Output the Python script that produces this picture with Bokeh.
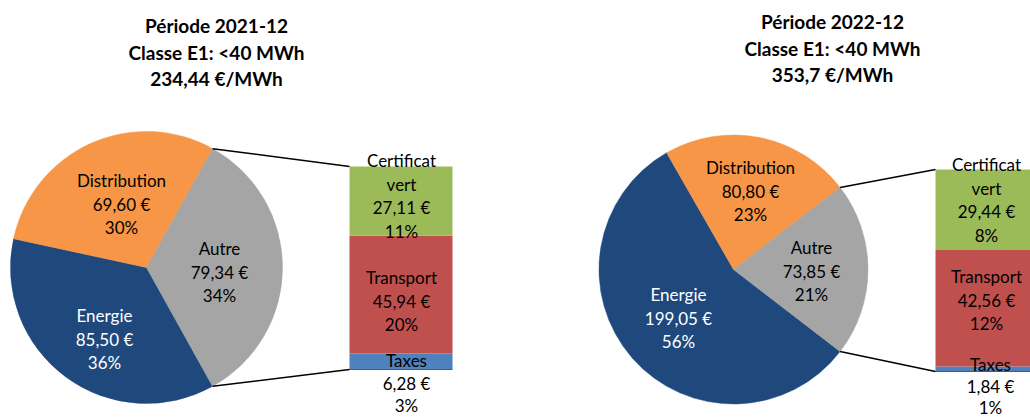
import math
from bokeh.plotting import figure
from bokeh.models import Range1d
from bokeh.core.properties import value
from bokeh.embed import file_html
from bokeh.resources import INLINE

# ---------------- data ----------------
pie_names = ["Energie", "Distribution", "Autre"]
pie_values_2021 = [85.50, 69.60, 79.34]
pie_values_2022 = [199.05, 80.80, 73.85]
pie_pct_2021 = ["36%", "30%", "34%"]
pie_pct_2022 = ["56%", "23%", "21%"]

bar_names = ["Certificat vert", "Transport", "Taxes"]
bar_values_2021 = [27.11, 45.94, 6.28]
bar_values_2022 = [29.44, 42.56, 1.84]
bar_pct_2021 = ["11%", "20%", "3%"]
bar_pct_2022 = ["8%", "12%", "1%"]

titles_2021 = ["Période 2021-12", "Classe E1: <40 MWh", "234,44 €/MWh"]
titles_2022 = ["Période 2022-12", "Classe E1: <40 MWh", "353,7 €/MWh"]

pie_colors = ["#1F497D", "#F79646", "#A5A5A5"]
pie_text_colors = ["white", "black", "black"]
bar_colors = ["#9BBB59", "#C0504D", "#4F81BD"]

FONT = "Lato"
FS = "17px"
TFS = "19px"
LH = 23.5

W, H = 1030, 419
p = figure(width=W, height=H, x_range=Range1d(0, W), y_range=Range1d(0, H),
           output_backend="svg", toolbar_location=None, min_border=0)
p.xaxis.visible = False
p.yaxis.visible = False
p.grid.visible = False
p.outline_line_color = None
p.background_fill_color = "white"
p.border_fill_color = "white"


def Y(s):
    # picture pixel y -> data y
    return H - s


def fmt(v):
    return ("%.2f" % v).replace(".", ",") + " €"


def draw_lines(lines, x, y0, color="black", bold=False, size=FS, lh=None):
    step = lh if lh is not None else (26.5 if bold else LH)
    ys = [Y(y0 + i * step) for i in range(len(lines))]
    p.text(x=[x] * len(lines), y=ys, text=lines, text_align="center",
           text_baseline="middle", text_font=value(FONT), text_font_size=size,
           text_color=color, text_font_style="bold" if bold else "normal")


def panel(cfg):
    cx, cy, r = cfg["pie"]
    vals = cfg["pie_values"]
    total = sum(vals)
    fr = [v / total * 2 * math.pi for v in vals]
    a_autre = fr[2]
    # Autre centred on the right (angle 0), then Distribution, then Energie anticlockwise
    starts = {2: -a_autre / 2, 1: a_autre / 2, 0: a_autre / 2 + fr[1]}
    ends = {2: a_autre / 2, 1: a_autre / 2 + fr[1], 0: 2 * math.pi - a_autre / 2}
    for i in range(3):
        p.wedge(x=cx, y=Y(cy), radius=r, start_angle=starts[i], end_angle=ends[i],
                fill_color=pie_colors[i], line_color=pie_colors[i], line_width=0.5)
    # bar of pie
    bl, br, bbot, bh = cfg["bar"]
    bvals = cfg["bar_values"]
    k = bh / sum(bvals)
    bottom = Y(bbot)
    segs = []
    cur = bottom
    for i in [2, 1, 0]:
        top = cur + bvals[i] * k
        segs.append((i, cur, top))
        cur = top
    for i, b, t in segs:
        p.quad(left=bl, right=br, bottom=b, top=t, fill_color=bar_colors[i], line_color=None)
    p.line(x=[bl, br], y=[bottom, bottom], line_color="#E02020", line_width=1)
    bar_top = cur
    # connectors
    px1 = cx + r * math.cos(a_autre / 2)
    py1 = Y(cy) + r * math.sin(a_autre / 2)
    px2 = cx + r * math.cos(-a_autre / 2)
    py2 = Y(cy) + r * math.sin(-a_autre / 2)
    p.line(x=[px1, bl], y=[py1, bar_top], line_color="black", line_width=1.5)
    p.line(x=[px2, bl], y=[py2, bottom], line_color="black", line_width=1.5)
    # labels
    for i in range(3):
        x, y0 = cfg["pie_lbl"][i]
        draw_lines([pie_names[i], fmt(vals[i]), cfg["pie_pct"][i]], x, y0, pie_text_colors[i])
    for i in range(3):
        x, y0 = cfg["bar_lbl"][i][:2]
        lh = cfg["bar_lbl"][i][2] if len(cfg["bar_lbl"][i]) > 2 else None
        draw_lines(bar_names[i].split(" ") + [fmt(bvals[i]), cfg["bar_pct"][i]], x, y0, lh=lh)
    tx, ty = cfg["title"]
    draw_lines(cfg["titles"], tx, ty, bold=True, size=TFS)


panel(dict(pie=(146, 267, 136), pie_values=pie_values_2021, pie_pct=pie_pct_2021,
           bar=(349, 452, 369, 203), bar_values=bar_values_2021, bar_pct=bar_pct_2021,
           pie_lbl=[(104, 315), (121, 180), (219, 248)],
           bar_lbl=[(401, 160), (401, 277), (406, 360, 22.5)],
           title=(216, 25), titles=titles_2021))
panel(dict(pie=(733, 269, 134.5), pie_values=pie_values_2022, pie_pct=pie_pct_2022,
           bar=(935, 1038, 371, 202), bar_values=bar_values_2022, bar_pct=bar_pct_2022,
           pie_lbl=[(678, 294), (750, 167), (811, 247)],
           bar_lbl=[(986, 164), (986, 276), (990, 364, 21.5)],
           title=(832, 21), titles=titles_2022))

open("out.html", "w").write(file_html(p, INLINE))
